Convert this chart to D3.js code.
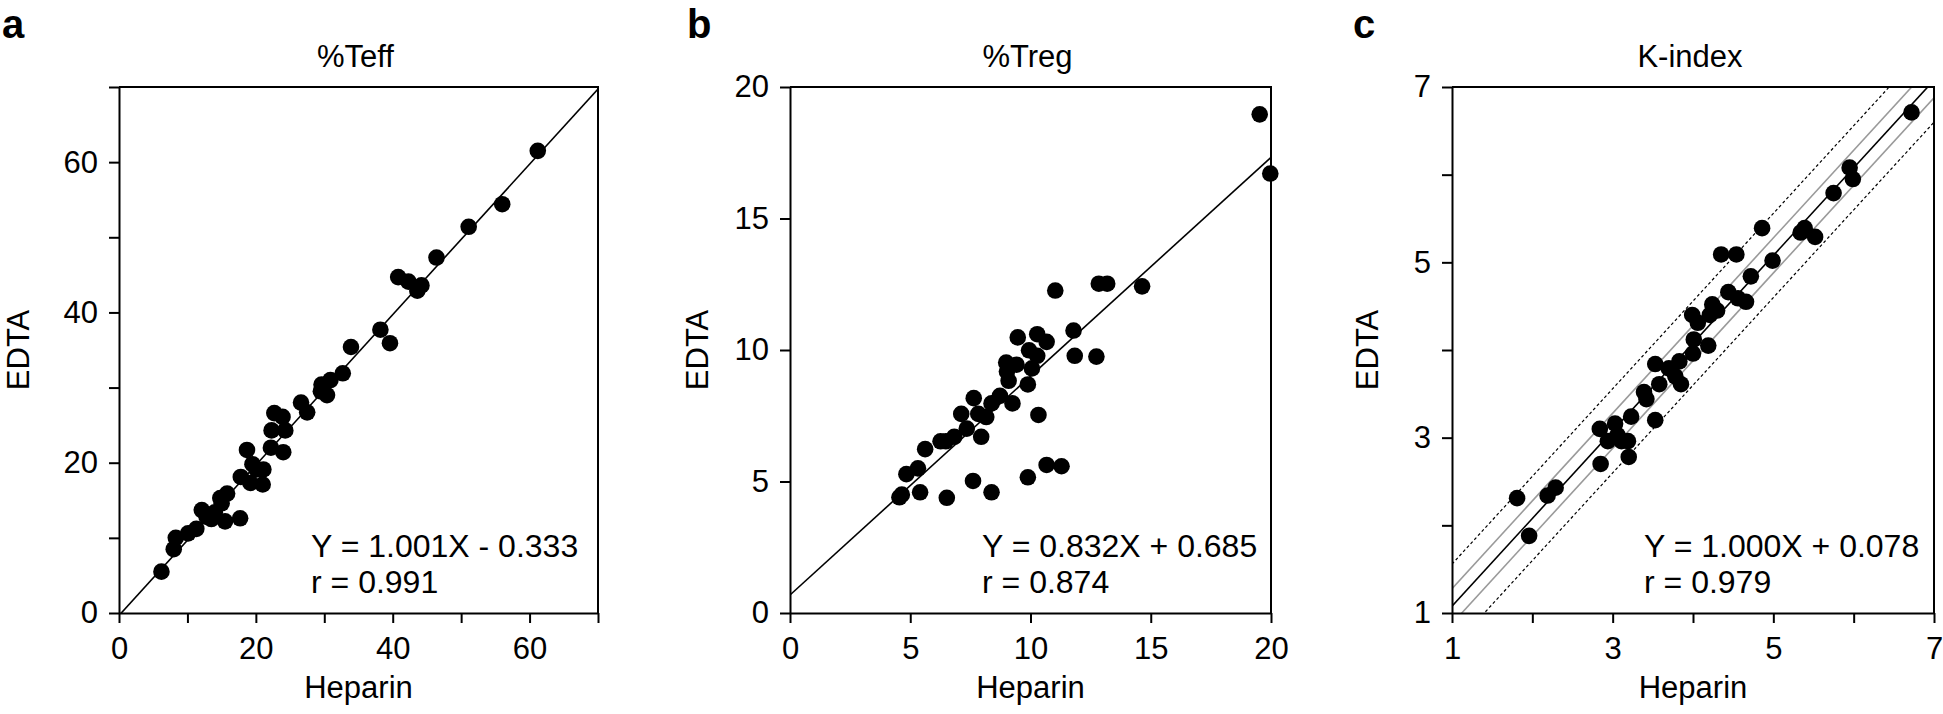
<!DOCTYPE html>
<html>
<head>
<meta charset="utf-8">
<script src="https://cdn.jsdelivr.net/npm/d3@7"></script>
<style>
  html, body { margin: 0; padding: 0; background: #fff; }
  svg { display: block; }
  text { font-family: "Liberation Sans", Arial, sans-serif; fill: #000; }
</style>
</head>
<body>
<svg id="chart" width="1943" height="714"></svg>
<script>
// ---------------- DATA ----------------
// Panel a: %Teff
const teffHeparin = [6.2, 8.0, 8.3, 10.1, 11.3, 12.1, 12.8, 13.5, 14.0, 15.0, 14.8, 15.8, 15.5, 17.7, 17.8,
  18.7, 19.2, 19.5, 20.1, 21.0, 21.1, 22.2, 22.3, 22.7, 23.9, 24.3, 24.0, 26.6, 27.5, 29.5,
  29.6, 30.4, 30.9, 32.7, 33.9, 38.2, 39.6, 40.8, 42.3, 43.6, 44.2, 46.4, 51.1, 56.0, 61.2];
const teffEDTA = [5.5, 8.5, 10.0, 10.6, 11.2, 13.7, 12.8, 12.5, 13.4, 14.6, 15.3, 15.9, 12.2, 12.6, 18.1,
  21.7, 17.3, 19.8, 19.1, 17.1, 19.1, 22.0, 24.3, 26.6, 26.1, 24.3, 21.4, 28.0, 26.7, 29.5,
  30.4, 29.0, 31.0, 31.9, 35.4, 37.7, 35.9, 44.7, 44.1, 42.9, 43.6, 47.3, 51.4, 54.4, 61.5];
const teffFit = { slope: 1.001, intercept: -0.333 };
const teffText = ["Y = 1.001X - 0.333", "r = 0.991"];
const teffTicks = [0, 10, 20, 30, 40, 50, 60, 70];
const teffLabels = [0, 20, 40, 60];

// Panel b: %Treg
const tregHeparin = [4.55, 4.65, 4.84, 5.32, 5.41, 5.62, 6.26, 6.52, 6.48, 6.83, 7.12, 7.35, 7.61, 7.64, 7.83,
  7.95, 8.16, 8.38, 8.38, 8.73, 8.99, 9.02, 9.09, 9.25, 9.42, 9.47, 9.89, 9.89, 9.94, 10.06,
  10.28, 10.28, 10.33, 10.67, 10.67, 11.03, 11.29, 11.79, 11.84, 12.74, 12.84, 13.19, 14.64, 19.53, 19.97];
const tregEDTA = [4.4, 4.5, 5.28, 5.5, 4.59, 6.23, 6.53, 4.38, 6.53, 6.70, 7.57, 7.01, 5.02, 8.17, 7.57,
  6.70, 7.45, 7.97, 4.59, 8.26, 9.52, 9.18, 8.83, 7.97, 9.44, 10.48, 8.69, 5.16, 9.99, 9.30,
  9.78, 10.60, 7.53, 10.31, 5.63, 12.26, 5.58, 10.74, 9.78, 9.75, 12.52, 12.52, 12.42, 18.96, 16.71];
const tregFit = { slope: 0.832, intercept: 0.685 };
const tregText = ["Y = 0.832X + 0.685", "r = 0.874"];
const tregTicks = [0, 5, 10, 15, 20];
const tregLabels = [0, 5, 10, 15, 20];

// Panel c: K-index
const kHeparin = [1.81, 1.96, 2.19, 2.29, 2.84, 2.85, 2.94, 3.03, 3.06, 3.11, 3.19, 3.20, 3.23, 3.39, 3.42,
  3.53, 3.53, 3.58, 3.70, 3.78, 3.83, 3.85, 4.00, 4.01, 3.99, 4.06, 4.19, 4.21, 4.24, 4.30,
  4.35, 4.44, 4.54, 4.56, 4.66, 4.72, 4.86, 4.99, 5.34, 5.39, 5.52, 5.75, 5.95, 5.99, 6.72];
const kEDTA = [2.31, 1.88, 2.34, 2.43, 3.10, 2.70, 2.96, 3.16, 3.03, 2.96, 2.96, 2.78, 3.24, 3.52, 3.44,
  3.20, 3.84, 3.61, 3.79, 3.70, 3.87, 3.61, 3.96, 4.12, 4.40, 4.31, 4.05, 4.40, 4.52, 4.45,
  5.09, 4.66, 5.09, 4.59, 4.55, 4.84, 5.39, 5.02, 5.34, 5.39, 5.29, 5.79, 6.08, 5.95, 6.71];
const kFit = { slope: 1.000, intercept: 0.078 };
const kInnerBand = [0.278, -0.122];   // grey lines (intercepts)
const kOuterBand = [0.558, -0.402];   // dashed lines (intercepts)
const kText = ["Y = 1.000X + 0.078", "r = 0.979"];
const kTicks = [1, 2, 3, 4, 5, 6, 7];
const kLabels = [1, 3, 5, 7];

const panelLetters = ["a", "b", "c"];
const panelTitles = ["%Teff", "%Treg", "K-index"];
const xTitle = "Heparin";
const yTitle = "EDTA";

// ---------------- LAYOUT ----------------
const svg = d3.select("#chart");
const plotTop = 87, plotBottom = 613;
const FS = 31;

const panels = [
  { left: 119, right: 598, domain: [0, 70], xs: teffHeparin, ys: teffEDTA, fit: teffFit, text: teffText,
    ticks: teffTicks, labels: teffLabels, letterX: 2, yTitleOff: 90 },
  { left: 790, right: 1271, domain: [0, 20], xs: tregHeparin, ys: tregEDTA, fit: tregFit, text: tregText,
    ticks: tregTicks, labels: tregLabels, letterX: 687, yTitleOff: 82 },
  { left: 1452, right: 1934, domain: [1, 7], xs: kHeparin, ys: kEDTA, fit: kFit, text: kText,
    ticks: kTicks, labels: kLabels, letterX: 1353, yTitleOff: 74,
    inner: kInnerBand, outer: kOuterBand }
];

const defs = svg.append("defs");

panels.forEach((p, i) => {
  const x = d3.scaleLinear().domain(p.domain).range([p.left, p.right]);
  const y = d3.scaleLinear().domain(p.domain).range([plotBottom, plotTop]);
  const g = svg.append("g");

  const clipId = "clip" + i;
  defs.append("clipPath").attr("id", clipId)
    .append("rect").attr("x", p.left).attr("y", plotTop)
    .attr("width", p.right - p.left).attr("height", plotBottom - plotTop);

  const lines = g.append("g").attr("clip-path", `url(#${clipId})`);
  const [d0, d1] = p.domain;
  const drawLine = (slope, intercept, stroke, width, dash) => {
    lines.append("line")
      .attr("x1", x(d0)).attr("y1", y(slope * d0 + intercept))
      .attr("x2", x(d1)).attr("y2", y(slope * d1 + intercept))
      .attr("stroke", stroke).attr("stroke-width", width)
      .attr("stroke-dasharray", dash || null);
  };
  if (p.outer) p.outer.forEach(b => drawLine(p.fit.slope, b, "#000", 1.2, "3,2.5"));
  if (p.inner) p.inner.forEach(b => drawLine(p.fit.slope, b, "#9a9a9a", 1.6));
  drawLine(p.fit.slope, p.fit.intercept, "#000", 1.6);

  // points
  g.append("g").selectAll("circle")
    .data(p.xs.map((v, k) => [v, p.ys[k]]))
    .join("circle")
    .attr("cx", d => x(d[0])).attr("cy", d => y(d[1]))
    .attr("r", 8.3).attr("fill", "#000");

  // axes
  const fmt = d => p.labels.includes(d) ? d : "";
  const xAxis = g.append("g").attr("transform", `translate(0,${plotBottom})`)
    .call(d3.axisBottom(x).tickValues(p.ticks).tickFormat(fmt).tickSize(10).tickSizeOuter(0).tickPadding(14));
  const yAxis = g.append("g").attr("transform", `translate(${p.left},0)`)
    .call(d3.axisLeft(y).tickValues(p.ticks).tickFormat(fmt).tickSize(10).tickSizeOuter(0).tickPadding(11));
  [xAxis, yAxis].forEach(a => {
    a.selectAll("path,line").attr("stroke", "#000").attr("stroke-width", 2);
    a.selectAll("text").attr("font-size", FS).attr("font-family", "Liberation Sans, Arial, sans-serif").attr("fill", "#000");
  });
  // box top and right
  g.append("line").attr("x1", p.left).attr("x2", p.right + 1).attr("y1", plotTop).attr("y2", plotTop)
    .attr("stroke", "#000").attr("stroke-width", 2);
  g.append("line").attr("x1", p.right).attr("x2", p.right).attr("y1", plotTop).attr("y2", plotBottom)
    .attr("stroke", "#000").attr("stroke-width", 2);

  // equation text
  p.text.forEach((t, k) => {
    g.append("text").attr("x", p.left + 192).attr("y", 557 + k * 36)
      .attr("font-size", 32).text(t);
  });

  // titles
  const cx = (p.left + p.right) / 2;
  g.append("text").attr("x", cx - 3).attr("y", 67).attr("text-anchor", "middle")
    .attr("font-size", 31).text(panelTitles[i]);
  g.append("text").attr("x", cx).attr("y", 698).attr("text-anchor", "middle")
    .attr("font-size", FS).text(xTitle);
  g.append("text")
    .attr("transform", `translate(${p.left - p.yTitleOff},${(plotTop + plotBottom) / 2}) rotate(-90)`)
    .attr("text-anchor", "middle").attr("font-size", FS).text(yTitle);
  g.append("text").attr("x", p.letterX).attr("y", 38)
    .attr("font-size", 40).attr("font-weight", "bold").text(panelLetters[i]);
});
</script>
</body>
</html>
